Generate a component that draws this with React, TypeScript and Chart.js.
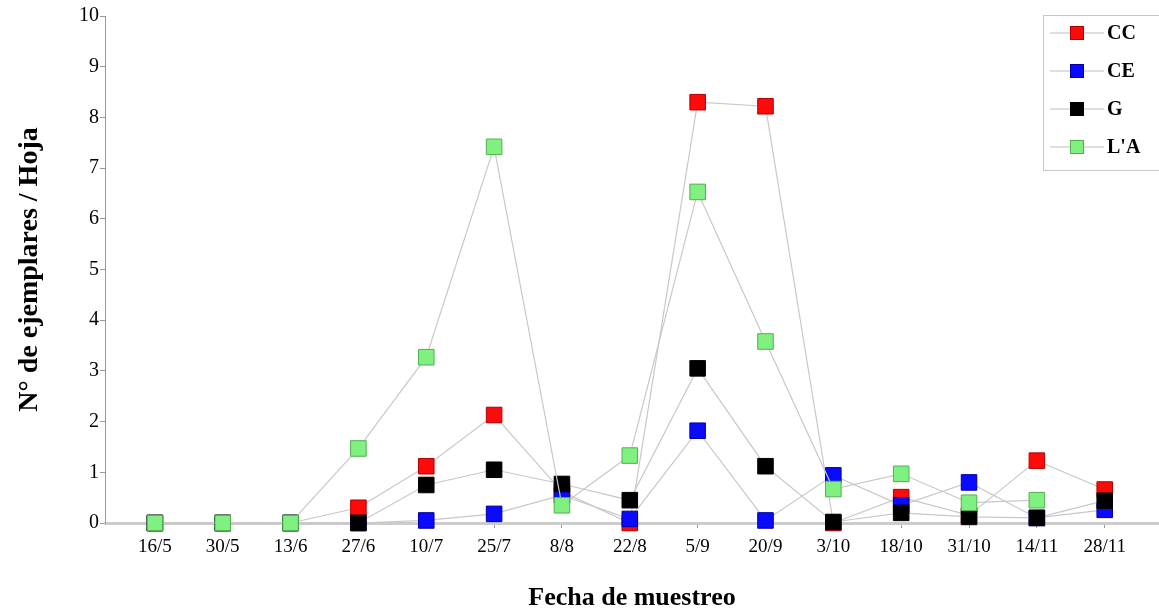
import React, { useEffect, useRef } from "react";
import { Chart, registerables } from "chart.js";

Chart.register(...registerables);

const categories = ["16/5", "30/5", "13/6", "27/6", "10/7", "25/7", "8/8", "22/8", "5/9", "20/9", "3/10", "18/10", "31/10", "14/11", "28/11"];
const ccValues = [0, 0, 0, 0.3, 1.12, 2.13, 0.62, 0.0, 8.3, 8.22, 0.0, 0.51, 0.15, 1.23, 0.66];
const ceValues = [0, 0, 0, 0.0, 0.05, 0.18, 0.55, 0.08, 1.82, 0.05, 0.94, 0.35, 0.8, 0.1, 0.26];
const gValues = [0, 0, 0, 0.0, 0.75, 1.05, 0.77, 0.45, 3.05, 1.12, 0.02, 0.2, 0.12, 0.1, 0.44];
const laValues: (number | null)[] = [0, 0, 0, 1.47, 3.27, 7.42, 0.35, 1.33, 6.53, 3.58, 0.67, 0.97, 0.4, 0.45, null];
const yTicks = [0, 1, 2, 3, 4, 5, 6, 7, 8, 9, 10];

const seriesNames = ["CC", "CE", "G", "L'A"];
const seriesFill = ["#ff0a0a", "#0a0aff", "#000000", "#80f080"];
const seriesEdge = ["#b00000", "#0000a0", "#000000", "#50b050"];

const FONT = "'Liberation Serif', 'DejaVu Serif', serif";

const legendPlugin = {
  id: "boxLegend",
  afterDraw(chart: any) {
    const ctx = chart.ctx;
    ctx.save();
    const bx = 1043.5, by = 15.5, bw = 130, bh = 155;
    ctx.strokeStyle = "#c8c8c8";
    ctx.lineWidth = 1;
    ctx.fillStyle = "#ffffff";
    ctx.fillRect(bx, by, bw, bh);
    ctx.strokeRect(bx, by, bw, bh);
    seriesNames.forEach((name, i) => {
      const y = 33 + i * 38;
      ctx.strokeStyle = "#bdbdbd";
      ctx.lineWidth = 1.2;
      ctx.beginPath();
      ctx.moveTo(1050, y);
      ctx.lineTo(1104, y);
      ctx.stroke();
      ctx.fillStyle = seriesFill[i];
      ctx.fillRect(1070, y - 7, 14, 14);
      ctx.strokeStyle = seriesEdge[i];
      ctx.lineWidth = 1;
      ctx.strokeRect(1070.5, y - 6.5, 13, 13);
      ctx.fillStyle = "#000";
      ctx.font = `bold 20px ${FONT}`;
      ctx.textBaseline = "middle";
      ctx.textAlign = "left";
      ctx.fillText(name, 1107, y + 1);
    });
    ctx.restore();
  },
};

export default function App() {
  const ref = useRef<HTMLCanvasElement | null>(null);
  useEffect(() => {
    if (!ref.current) return;
    const all = [ccValues, ceValues, gValues, laValues];
    const datasets = all.map((vals, i) => ({
      label: seriesNames[i],
      data: vals.map((v, j) => ({ x: j, y: v })),
      borderColor: "#c8c8c8",
      borderWidth: 1.2,
      pointStyle: "rect" as const,
      pointRadius: 11,
      pointBackgroundColor: seriesFill[i],
      pointBorderColor: seriesEdge[i],
      pointBorderWidth: 1,
      order: 4 - i,
      tension: 0,
      clip: false as const,
    }));
    const chart = new Chart(ref.current, {
      type: "line",
      data: { datasets },
      options: {
        animation: false,
        responsive: false,
        maintainAspectRatio: false,
        layout: { autoPadding: false, padding: { top: 16, right: 0, bottom: 0, left: 0 } },
        plugins: { legend: { display: false }, tooltip: { enabled: false } },
        scales: {
          x: {
            type: "linear",
            min: -0.735,
            max: 14.8,
            afterBuildTicks: (scale: any) => {
              scale.ticks = categories.map((_, i) => ({ value: i }));
            },
            afterFit: (scale: any) => {
              scale.height = 88;
              scale.paddingLeft = 0;
              scale.paddingRight = 0;
            },
            ticks: {
              autoSkip: false,
              maxRotation: 0,
              color: "#000",
              padding: 8,
              font: { family: FONT, size: 19 },
              callback: (v: any) => categories[v] ?? "",
            },
            grid: { drawOnChartArea: false, drawTicks: true, tickLength: 5, color: "#999" },
            border: { color: "#cccccc", width: 3 },
            title: {
              display: true,
              text: "Fecha de muestreo",
              color: "#000",
              font: { family: FONT, size: 26, weight: "bold" },
              padding: { top: 0, bottom: -3 },
            },
          },
          y: {
            min: 0,
            max: 10,
            afterBuildTicks: (scale: any) => {
              scale.ticks = yTicks.map((v) => ({ value: v }));
            },
            afterFit: (scale: any) => {
              scale.width = 105;
            },
            ticks: {
              color: "#000",
              padding: 1,
              font: { family: FONT, size: 20 },
            },
            grid: { drawOnChartArea: false, drawTicks: true, tickLength: 5, color: "#999" },
            border: { color: "#999999", width: 1 },
            title: {
              display: true,
              text: "N° de ejemplares / Hoja",
              color: "#000",
              font: { family: FONT, size: 28, weight: "bold" },
              padding: { top: 13, bottom: 0 },
            },
          },
        },
      },
      plugins: [legendPlugin],
    });
    return () => chart.destroy();
  }, []);
  return (
    <div style={{ position: "fixed", left: 0, top: 0, width: 1159, height: 611, background: "#fff" }}>
      <canvas ref={ref} width={1159} height={611} style={{ display: "block", width: 1159, height: 611 }} />
    </div>
  );
}
